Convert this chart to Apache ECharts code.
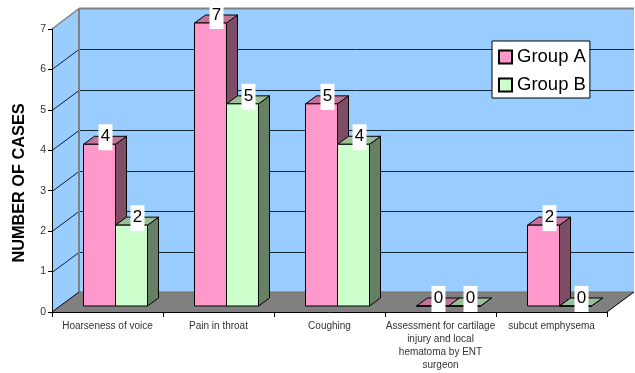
<!DOCTYPE html>
<html>
<head>
<meta charset="utf-8">
<style>html,body{margin:0;padding:0;background:#fff}#chart{width:635px;height:373px}</style>
<script src="https://cdn.jsdelivr.net/npm/echarts@6/dist/echarts.min.js"></script>
</head>
<body>
<div id="chart"></div>
<script>
const categories = [
  'Hoarseness of voice',
  'Pain in throat',
  'Coughing',
  'Assessment for cartilage\ninjury and local\nhematoma by ENT\nsurgeon',
  'subcut emphysema'
];
const groupA = [4, 7, 5, 0, 2];
const groupB = [2, 5, 4, 0, 0];
const valueTicks = [1, 2, 3, 4, 5, 6, 7];

const FONT = '"Liberation Sans", Arial, sans-serif';
// Oblique projection of the box: how far the back wall sits from the front plane.
const WALL_DX = 27, WALL_DY = -20;
// Bars stand partway into the box and have their own depth.
const BAR_W = 32, BAR_LIFT = 6, BAR_SHIFT = 8, BAR_DX = 11, BAR_DY = -8;

const poly = (points, fill, stroke, z2) => ({
  type: 'polygon', z2: z2 || 0,
  shape: { points },
  style: { fill, stroke: stroke || null, lineWidth: 1 }
});
const seg = (x1, y1, x2, y2, stroke, lineWidth, z2) => ({
  type: 'line', z2: z2 || 0,
  shape: { x1, y1, x2, y2 },
  style: { stroke, lineWidth }
});

function renderBox(params, api) {
  const g = params.coordSys;
  const L = g.x, R = g.x + g.width, B = g.y + g.height;
  const T = api.coord([0, 7])[1];
  const bx = L + WALL_DX, by = B + WALL_DY, tby = T + WALL_DY - 0.5, rx = R + WALL_DX;
  const children = [
    poly([[L, B], [bx, by], [bx, tby], [L, T]], '#99CCFF'),
    poly([[bx, by], [rx, by], [rx, tby], [bx, tby]], '#99CCFF'),
    poly([[L, B], [bx, by], [rx, by], [R, B]], '#808080')
  ];
  valueTicks.forEach(v => {
    const y = Math.round(api.coord([0, v])[1]) + 0.5;
    if (v < 7) {
      children.push(seg(L, y, bx, y + WALL_DY, '#0d1f30', 1, 2));
      children.push(seg(bx, y + WALL_DY, rx, y + WALL_DY, '#10283e', 1, 2));
    }
  });
  children.push(seg(L, T, bx, tby, '#808080', 1.5, 3));
  children.push(seg(bx, tby, rx, tby, '#808080', 2, 3));
  children.push(seg(bx, tby, bx, by, '#808080', 2, 3));
  children.push(seg(bx, by, rx, by, '#707070', 1, 3));
  children.push(seg(L, B, bx, by, '#000', 1, 3));
  children.push(seg(R, B, rx, by, '#000', 1, 3));
  return { type: 'group', children };
}

function barRenderer(side, front, top, right) {
  return function (params, api) {
    const i = api.value(0), v = api.value(1);
    const p = api.coord([i, v]), p0 = api.coord([i, 0]);
    const seam = p[0] + BAR_SHIFT;
    const x0 = side === 0 ? seam - BAR_W : seam;
    const x1 = x0 + BAR_W;
    const yT = p[1] - BAR_LIFT, yB = p0[1] - BAR_LIFT;
    const stroke = '#000';
    const cx = (x0 + x1) / 2 + 6;
    return {
      type: 'group',
      children: [
        poly([[x1, yB], [x1 + BAR_DX, yB + BAR_DY], [x1 + BAR_DX, yT + BAR_DY], [x1, yT]], right, stroke),
        poly([[x0, yT], [x0 + BAR_DX, yT + BAR_DY], [x1 + BAR_DX, yT + BAR_DY], [x1, yT]], top, stroke),
        poly([[x0, yT], [x1, yT], [x1, yB], [x0, yB]], front, stroke),
        {
          type: 'rect', z2: 100,
          shape: { x: cx - 7, y: yT - 20, width: 14, height: 26 },
          style: { fill: '#fff' }
        },
        {
          type: 'text', z2: 101,
          x: cx, y: yT - 8,
          style: {
            text: String(v), fill: '#000', font: '17px ' + FONT,
            align: 'center', verticalAlign: 'middle'
          }
        }
      ]
    };
  };
}

const chart = echarts.init(document.getElementById('chart'), null, { renderer: 'canvas' });
chart.setOption({
  animation: false,
  backgroundColor: '#fff',
  grid: { left: 52, top: 29, width: 555, height: 283, containLabel: false },
  legend: {
    data: ['Group A', 'Group B'],
    orient: 'vertical',
    left: 492, top: 41,
    padding: [6.5, 4, 3.5, 6],
    itemWidth: 13, itemHeight: 13, itemGap: 9,
    icon: 'rect',
    backgroundColor: '#fff',
    borderColor: '#000', borderWidth: 1,
    textStyle: { fontFamily: FONT, fontSize: 18.5, color: '#000' },
    z: 20
  },
  xAxis: {
    type: 'category',
    data: categories,
    z: 4,
    axisLine: { lineStyle: { color: '#000', width: 1 } },
    axisTick: { show: true, length: 5, alignWithLabel: false, lineStyle: { color: '#000' } },
    axisLabel: {
      interval: 0, margin: 8, fontFamily: FONT, fontSize: 10,
      color: '#333', lineHeight: 13, verticalAlign: 'top'
    }
  },
  yAxis: {
    type: 'value',
    min: 0, max: 7, interval: 1,
    z: 4,
    name: 'NUMBER OF CASES',
    nameLocation: 'middle',
    nameGap: 24,
    nameRotate: 90,
    nameTextStyle: {
      fontFamily: FONT, fontSize: 16.3, fontWeight: 'bold', color: '#000',
      padding: [0, 25, 0, 0]
    },
    splitLine: { show: false },
    axisLine: { show: true, lineStyle: { color: '#000', width: 1 } },
    axisTick: { show: true, length: 4, lineStyle: { color: '#000' } },
    axisLabel: { margin: 6, fontFamily: FONT, fontSize: 10.5, color: '#333' }
  },
  series: [
    { type: 'custom', z: 1, silent: true, data: [0], renderItem: renderBox, clip: false },
    {
      name: 'Group A', type: 'custom', z: 3, clip: false,
      itemStyle: { color: '#FF99CC', borderColor: '#000', borderWidth: 1 },
      data: groupA.map((v, i) => [i, v]),
      encode: { x: 0, y: 1 },
      renderItem: barRenderer(0, '#FF99CC', '#BF7399', '#804D66')
    },
    {
      name: 'Group B', type: 'custom', z: 3, clip: false,
      itemStyle: { color: '#CCFFCC', borderColor: '#000', borderWidth: 1 },
      data: groupB.map((v, i) => [i, v]),
      encode: { x: 0, y: 1 },
      renderItem: barRenderer(1, '#CCFFCC', '#99BF99', '#668066')
    }
  ]
});
</script>
</body>
</html>
